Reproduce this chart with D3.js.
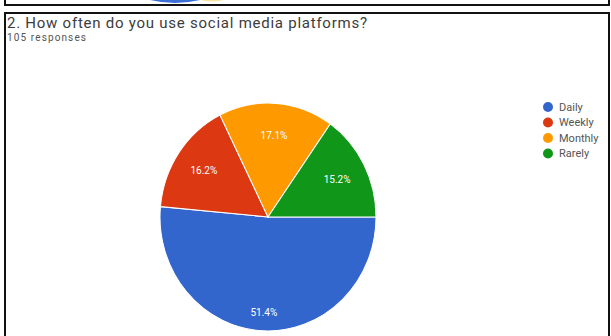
<!DOCTYPE html>
<html>
<head>
<meta charset="utf-8">
<script src="https://cdnjs.cloudflare.com/ajax/libs/d3/7.8.5/d3.min.js"></script>
<style>
  body { margin: 0; background: #fff; }
  svg { display: block; }
</style>
</head>
<body>
<div id="chart"></div>
<script>
// Data
var categories = ["Daily", "Weekly", "Monthly", "Rarely"];
var percents = [51.4, 16.2, 17.1, 15.2];
var palette = ["#3366cc", "#dc3912", "#ff9900", "#109618"];
var title = "2. How often do you use social media platforms?";
var subtitle = "105 responses";

var W = 611, H = 336,
    font_family = "Roboto, 'Noto Sans', Arial, sans-serif";

var svg = d3.select("#chart").append("svg")
  .attr("width", W)
  .attr("height", H);

// Previous card edge with bits of the logo peeking out
svg.append("path")
  .attr("d", "M150,0 Q175,6 200,0 Z")
  .attr("fill", "#3b6fd6");
svg.append("path")
  .attr("d", "M200,0 Q212,3 224,0 Z")
  .attr("fill", "#f6e7a0");
svg.append("path")
  .attr("d", "M5,0 V5 H609 V0")
  .attr("fill", "none")
  .attr("stroke", "#111")
  .attr("stroke-width", 2);

// Current card frame
svg.append("path")
  .attr("d", "M5,336 V13 H609 V336")
  .attr("fill", "none")
  .attr("stroke", "#111")
  .attr("stroke-width", 2);

// Title
svg.append("text")
  .attr("x", 7)
  .attr("y", 28)
  .attr("font-family", font_family)
  .attr("font-size", 15)
  .attr("fill", "#3c3c3c")
  .attr("textLength", 360)
  .text(title);

svg.append("text")
  .attr("x", 7)
  .attr("y", 41)
  .attr("font-family", font_family)
  .attr("font-size", 10)
  .attr("fill", "#555")
  .attr("textLength", 79)
  .text(subtitle);

// Pie
var cx = 268, cy = 217, radius = 108, stretch = 1.055;

var colors = d3.scaleOrdinal().domain(categories).range(palette);

var rows = categories.map(function(c, i) { return {name: c, value: percents[i]}; });

var pie = d3.pie()
  .value(function(d) { return d.value; })
  .sort(null)
  .startAngle(Math.PI / 2)
  .endAngle(Math.PI / 2 + 2 * Math.PI);

var arc = d3.arc().innerRadius(0).outerRadius(radius);

var g = svg.append("g")
  .attr("transform", "translate(" + cx + "," + cy + ") scale(1," + stretch + ")");

g.selectAll("path.slice")
  .data(pie(rows))
  .enter().append("path")
    .attr("class", "slice")
    .attr("d", arc)
    .attr("fill", function(d) { return colors(d.data.name); })
    .attr("stroke", "#fff")
    .attr("stroke-width", 1);

// Slice labels (big slice label sits further out)
g.selectAll("text.lbl")
  .data(pie(rows))
  .enter().append("text")
    .attr("class", "lbl")
    .attr("transform", function(d) {
      var a = (d.startAngle + d.endAngle) / 2,
          r = radius * (d.data.value > 40 ? 0.84 : 0.72);
      return "translate(" + (Math.sin(a) * r) + "," + (-Math.cos(a) * r) + ") scale(1," + (1 / stretch) + ")";
    })
    .attr("dy", "0.35em")
    .attr("text-anchor", "middle")
    .attr("font-family", font_family)
    .attr("font-size", 10)
    .attr("fill", "#fff")
    .text(function(d) { return d.data.value.toFixed(1) + "%"; });

// Legend
var legend = svg.append("g")
  .attr("transform", "translate(548,107)");

var item = legend.selectAll("g")
  .data(categories)
  .enter().append("g")
    .attr("transform", function(d, i) { return "translate(0," + (i * 15.5) + ")"; });

item.append("circle")
  .attr("r", 5)
  .attr("fill", function(d) { return colors(d); });

item.append("text")
  .attr("x", 11)
  .attr("dy", "0.35em")
  .attr("font-family", font_family)
  .attr("font-size", 11)
  .attr("fill", "#555")
  .text(function(d) { return d; });
</script>
</body>
</html>
